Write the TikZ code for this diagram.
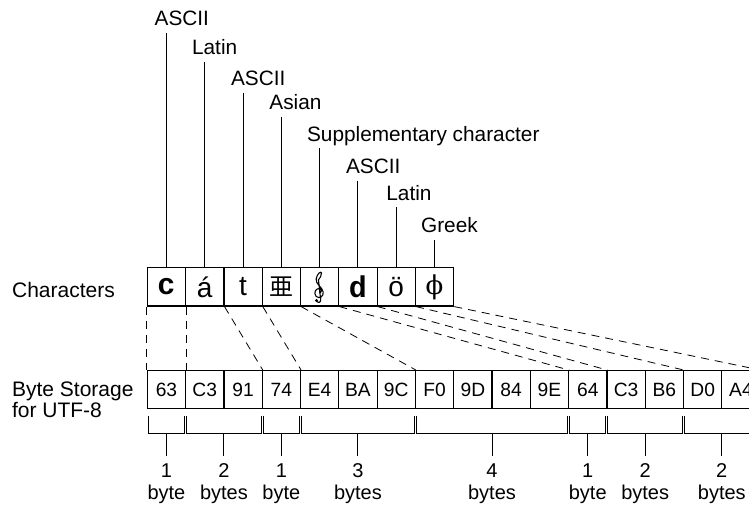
\documentclass[tikz,border=0pt]{standalone}
\usepackage{fontspec}
\setmainfont{Liberation Sans}
\newfontfamily\monofont{Liberation Mono}
\newfontfamily\cjkfont{Noto Sans CJK JP}
\newfontfamily\greekfont{DejaVu Serif}
\usetikzlibrary{positioning,calc}

\tikzset{
  charbox/.style={draw, line width=.6pt, inner sep=0pt, minimum width=19.15pt,
    minimum height=19.15pt, font=\fontsize{14}{15}\selectfont},
  bytebox/.style={draw, line width=.6pt, inner sep=0pt, minimum width=19.15pt,
    minimum height=18.8pt, font=\fontsize{9.6}{11}\selectfont},
  kind/.style={anchor=base west, inner xsep=0pt, inner ysep=3.5pt, text depth=0pt,
    font=\fontsize{10.4}{12}\selectfont},
  count/.style={anchor=north, align=center, inner sep=4pt,
    font=\fontsize{10}{11}\selectfont},
  side/.style={inner sep=0pt, align=left, font=\fontsize{10.5}{10.5}\selectfont},
  link/.style={dashed, dash pattern=on 4pt off 3pt, line width=.4pt},
  brace/.style={line width=.5pt}
}

\begin{document}
\begin{tikzpicture}[x=0.5pt, y=-0.5pt]
\useasboundingbox (0,0) rectangle (749,508);

% side labels
\node[side, anchor=base west] (chlabel) at (11.7, 297) {Characters};
\node[side, anchor=north west] (bylabel) at (11.7, 381.5) {Byte Storage\\for UTF-8};

% characters
\node[charbox] (c1) at (166.45, 286.85) {\monofont\bfseries\fontsize{15}{15}\selectfont c};
\node[charbox] (c2) at (204.75, 286.85) {á};
\node[charbox] (c3) at (243.05, 286.85) {t};
\node[charbox] (c4) at (281.35, 286.85) {\cjkfont\fontsize{12}{12}\selectfont 亜};
\node[charbox] (c5) at (319.65, 286.85) {};
\node[charbox] (c6) at (357.95, 286.85) {\monofont\bfseries\fontsize{15}{15}\selectfont d};
\node[charbox] (c7) at (396.25, 286.85) {ö};
\node[charbox] (c8) at (434.55, 286.85) {\greekfont\fontsize{13}{13}\selectfont ϕ};

% treble clef (no font has it)
\begin{scope}[shift={(c5.center)}, line width=.55pt]
  \draw (-0.5,6) .. controls (2,6.5) and (2.5,2) .. (0,1.5)
    .. controls (-4,1.5) and (-6.5,6) .. (-3.5,9.5)
    .. controls (-0.5,12.5) and (4.5,9.5) .. (3.5,5)
    .. controls (2.5,0) and (-4.5,-3) .. (-3.5,-8)
    .. controls (-2.5,-13) and (1,-16) .. (1.8,-14)
    .. controls (2.5,-11) and (0,-9.5) .. (-1.2,-7)
    -- (1,12.5) .. controls (1.5,16) and (-2,16.5) .. (-3,14);
  \fill (-3.2,13.6) circle (1.6);
\end{scope}

% character kinds
\node[kind] (k1) at (154.3, 26) {ASCII};
\node[kind] (k2) at (191.7, 55) {Latin};
\node[kind] (k3) at (230.7, 85.5) {ASCII};
\node[kind] (k4) at (269, 110) {Asian};
\node[kind] (k5) at (306.7, 141) {Supplementary character};
\node[kind] (k6) at (345.7, 173.5) {ASCII};
\node[kind] (k7) at (386, 200) {Latin};
\node[kind] (k8) at (420.7, 232.5) {Greek};
\foreach \i in {1,...,8}
  \draw[line width=.5pt] (c\i.north |- k\i.south) -- (c\i.north);

% bytes
\node[bytebox] (b1) at (166.45, 389.5) {63};
\node[bytebox] (b2) at (204.75, 389.5) {C3};
\node[bytebox] (b3) at (243.05, 389.5) {91};
\node[bytebox] (b4) at (281.35, 389.5) {74};
\node[bytebox] (b5) at (319.65, 389.5) {E4};
\node[bytebox] (b6) at (357.95, 389.5) {BA};
\node[bytebox] (b7) at (396.25, 389.5) {9C};
\node[bytebox] (b8) at (434.55, 389.5) {F0};
\node[bytebox] (b9) at (472.85, 389.5) {9D};
\node[bytebox] (b10) at (511.15, 389.5) {84};
\node[bytebox] (b11) at (549.45, 389.5) {9E};
\node[bytebox] (b12) at (587.75, 389.5) {64};
\node[bytebox] (b13) at (626.05, 389.5) {C3};
\node[bytebox] (b14) at (664.35, 389.5) {B6};
\node[bytebox] (b15) at (702.65, 389.5) {D0};
\node[bytebox] (b16) at (740.95, 389.5) {A4};

% characters to bytes
\draw[link] (c1.south west) -- (b1.north west);
\draw[link] (c1.south east) -- (b1.north east);
\draw[link] (c2.south east) -- (b3.north east);
\draw[link] (c3.south east) -- (b4.north east);
\draw[link] (c4.south east) -- (b7.north east);
\draw[link] (c5.south east) -- (b11.north east);
\draw[link] (c6.south east) -- (b12.north east);
\draw[link] (c7.south east) -- (b14.north east);
\draw[link] (c8.south east) -- (b16.north east);

% byte counts
\foreach \a/\b/\n/\w [count=\g] in {1/1/1/byte, 2/3/2/bytes, 4/4/1/byte,
    5/7/3/bytes, 8/11/4/bytes, 12/12/1/byte, 13/14/2/bytes, 15/16/2/bytes} {
  \draw[brace] ([xshift=.8pt, yshift=-3.4pt]b\a.south west) -- ++(0,17.7)
    -| ([xshift=-.8pt, yshift=-3.4pt]b\b.south east);
  \node[count] (n\g) at ($(b\a.south west)!.5!(b\b.south east) + (0,46.7)$) {\n\\\w};
  \draw[brace] (n\g.north) -- ++(0,-22.3);
}

\end{tikzpicture}
\end{document}
